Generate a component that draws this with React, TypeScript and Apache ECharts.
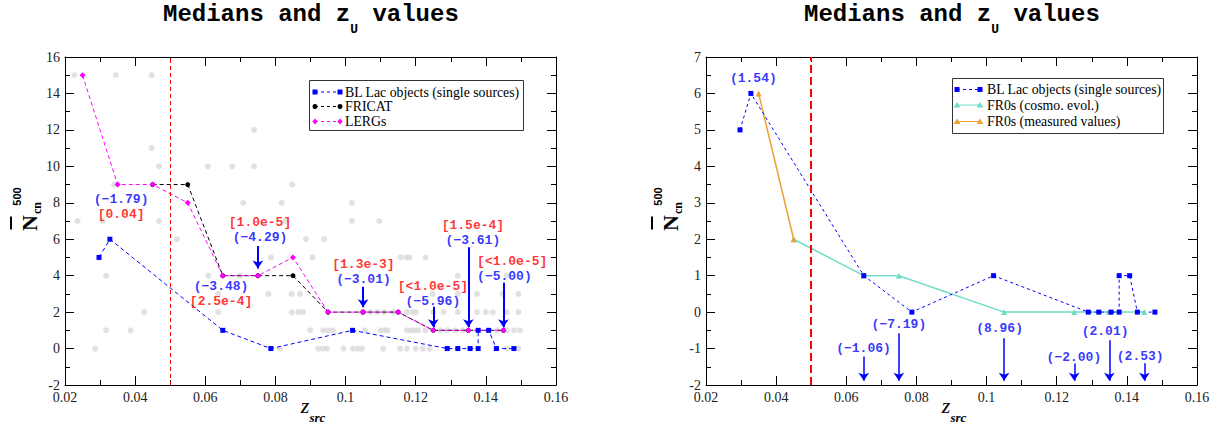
import React, { useEffect, useRef } from "react";
import * as echarts from "echarts";

// ---------------- data ----------------
const zMin = 0.02;
const zMax = 0.16;
const zStep = 0.02;
const zCut = 0.05;

// left panel: medians
const blLacZ = [0.0297, 0.0328, 0.065, 0.0787, 0.102, 0.129, 0.132, 0.1355, 0.1378, 0.1378, 0.1408, 0.143, 0.148];
const blLacN = [5, 6, 1, 0, 1, 0, 0, 0, 0, 1, 1, 0, 0];
const fricatZ = [0.045, 0.055, 0.065, 0.075, 0.085, 0.095, 0.105, 0.115, 0.125, 0.135, 0.145];
const fricatN = [9, 9, 4, 4, 4, 2, 2, 2, 1, 1, 1];
const lergZ = [0.025, 0.035, 0.045, 0.055, 0.065, 0.075, 0.085, 0.095, 0.105, 0.115, 0.125, 0.135, 0.145];
const lergN = [15, 9, 9, 8, 4, 4, 5, 2, 2, 2, 1, 1, 1];

// right panel
const fr0CosmoZ = [0.045, 0.065, 0.075, 0.105, 0.125, 0.135, 0.145];
const fr0CosmoN = [2, 1, 1, 0, 0, 0, 0];
const fr0MeasZ = [0.035, 0.045];
const fr0MeasN = [6, 2];

// individual sources (grey), grouped by N value
const srcRows: [number, number[]][] = [
  [15, [0.0227, 0.0345, 0.0447]],
  [12, [0.0739]],
  [11, [0.0447]],
  [10, [0.0468, 0.0607, 0.0677, 0.0739]],
  [9, [0.034, 0.0848]],
  [8, [0.0708, 0.0818, 0.1018]],
  [7, [0.0236, 0.0308, 0.0468, 0.0827, 0.1018, 0.1096]],
  [6, [0.0519, 0.0887, 0.0939]],
  [5, [0.0787, 0.0906, 0.1157, 0.1174, 0.1182, 0.1228]],
  [4, [0.0317, 0.0609, 0.0699, 0.132, 0.146]],
  [3, [0.0637, 0.078, 0.0846, 0.087, 0.1248, 0.132, 0.1375, 0.1448, 0.1493]],
  [2, [0.0426, 0.0637, 0.0847, 0.0865, 0.0879, 0.1046, 0.107, 0.109, 0.111, 0.1136, 0.1175, 0.119, 0.12, 0.125, 0.128, 0.132, 0.1375, 0.14, 0.142, 0.146, 0.1493]],
  [1, [0.0317, 0.0387, 0.0899, 0.0936, 0.095, 0.0964, 0.1055, 0.11, 0.1112, 0.112, 0.1175, 0.1185, 0.1195, 0.1207, 0.1227, 0.127, 0.129, 0.1313, 0.1335, 0.1432, 0.146, 0.148, 0.1497]],
  [0, [0.0286, 0.0813, 0.0922, 0.0935, 0.0947, 0.0994, 0.1021, 0.1035, 0.1047, 0.1107, 0.1155, 0.1175, 0.12, 0.122, 0.124, 0.146, 0.1493]],
];

// annotations (left): label anchor, texts, arrow
const leftNoteZ = [0.036, 0.0645, 0.0756, 0.1051, 0.1249, 0.1363, 0.1375];
const leftNoteN = [7.77, 2.99, 6.48, 4.21, 2.99, 6.34, 4.37];
const leftNoteStat = ["(−1.79)", "(−3.48)", "(−4.29)", "(−3.01)", "(−5.96)", "(−3.61)", "(−5.00)"];
const leftNotePval = ["[0.04]", "[2.5e-4]", "[1.0e-5]", "[1.3e-3]", "[<1.0e-5]", "[1.5e-4]", "[<1.0e-5]"];
const leftNoteStatFirst = [true, true, false, false, false, false, false];
const leftNoteAlign = ["center", "center", "center", "center", "center", "center", "left"];
const leftArrowZ = [0.075, 0.105, 0.125, 0.135, 0.145];
const leftArrowFrom = [5.63, 3.39, 2.3, 5.56, 3.61];
const leftArrowTo = [4.39, 2.27, 1.17, 1.17, 1.17];

// annotations (right)
const rightNoteZ = [0.0335, 0.0649, 0.075, 0.1037, 0.1249, 0.1338, 0.1438];
const rightNoteN = [6.42, -0.99, -0.335, -0.46, -1.24, -0.54, -1.22];
const rightNoteStat = ["(1.54)", "(−1.06)", "(−7.19)", "(8.96)", "(−2.00)", "(2.01)", "(2.53)"];
const rightArrowZ = [0.065, 0.075, 0.105, 0.125, 0.135, 0.145];
const rightArrowFrom = [-1.22, -0.58, -0.72, -1.41, -0.77, -1.4];
const rightArrowTo = [-1.88, -1.88, -1.88, -1.88, -1.88, -1.88];

const nameBL = "BL Lac objects (single sources)";
const nameFRICAT = "FRICAT";
const nameLERG = "LERGs";
const nameCosmo = "FR0s (cosmo. evol.)";
const nameMeas = "FR0s (measured values)";

// ---------------- style ----------------
const MONO = "'Liberation Mono', 'DejaVu Sans Mono', monospace";
const SERIF = "'Liberation Serif', 'DejaVu Serif', serif";
const SANS = "'Liberation Sans', 'DejaVu Sans', sans-serif";
const BLUE = "#0000ff";
const RED = "#ff0000";
const MAGENTA = "#ff00ff";
const TURQ = "#72dcc8";
const ORANGE = "#eba236";
const GREY = "#d9d9d9";

const zip = (xs: number[], ys: number[]) => xs.map((x, i) => [x, ys[i]]);

function xAxisFor(gridIndex: number, position: string, showLabel: boolean) {
  return {
    type: "value",
    gridIndex,
    position,
    min: zMin,
    max: zMax,
    interval: zStep,
    axisLine: { show: true, onZero: false, lineStyle: { color: "#000", width: 1 } },
    axisTick: { show: true, inside: true, length: 9, lineStyle: { color: "#000", width: 1 } },
    minorTick: { show: true, splitNumber: 2, length: 5, lineStyle: { color: "#000", width: 1 } },
    splitLine: { show: false },
    minorSplitLine: { show: false },
    axisLabel: { show: showLabel, margin: 5, color: "#222", fontFamily: SERIF, fontSize: 14 },
  };
}

function yAxisFor(gridIndex: number, position: string, showLabel: boolean, min: number, max: number, interval: number) {
  return {
    type: "value",
    gridIndex,
    position,
    min,
    max,
    interval,
    axisLine: { show: true, onZero: false, lineStyle: { color: "#000", width: 1 } },
    axisTick: { show: true, inside: true, length: 9, lineStyle: { color: "#000", width: 1 } },
    minorTick: { show: true, splitNumber: 2, length: 5, lineStyle: { color: "#000", width: 1 } },
    splitLine: { show: false },
    minorSplitLine: { show: false },
    axisLabel: { show: showLabel, margin: 5, color: "#222", fontFamily: SERIF, fontSize: 14 },
  };
}

const richText = {
  r: { color: RED, fontFamily: MONO, fontWeight: "bold", fontSize: 13, lineHeight: 15 },
  b: { color: BLUE, fontFamily: MONO, fontWeight: "bold", fontSize: 13, lineHeight: 15 },
};

function markerEl(kind: string, cx: number, cy: number, color: string) {
  if (kind === "rect") return { type: "rect", shape: { x: cx - 2.5, y: cy - 2.5, width: 5, height: 5 }, style: { fill: color } };
  if (kind === "circle") return { type: "circle", shape: { cx, cy, r: 2.5 }, style: { fill: color } };
  if (kind === "diamond")
    return { type: "polygon", shape: { points: [[cx, cy - 3], [cx + 2.6, cy], [cx, cy + 3], [cx - 2.6, cy]] }, style: { fill: color } };
  return { type: "polygon", shape: { points: [[cx, cy - 3], [cx + 3.5, cy + 2.5], [cx - 3.5, cy + 2.5]] }, style: { fill: color } };
}

function legendBox(x: number, y: number, w: number, h: number, rows: any[], lineX1: number, lineX2: number, textX: number, rowY: number[]) {
  const children: any[] = [
    { type: "rect", shape: { x: x + 0.5, y: y + 0.5, width: w, height: h }, style: { fill: "#fff", stroke: "#333", lineWidth: 1 } },
  ];
  rows.forEach((r, i) => {
    const cy = rowY[i];
    children.push({
      type: "line",
      shape: { x1: lineX1, y1: cy, x2: lineX2, y2: cy },
      style: { stroke: r.color, lineWidth: 1, lineDash: r.dash || null },
    });
    children.push(markerEl(r.marker, lineX1, cy, r.color));
    children.push(markerEl(r.marker, lineX2, cy, r.color));
    children.push({
      type: "text",
      x: textX,
      y: cy,
      style: { text: r.name, fill: "#000", fontFamily: SERIF, fontSize: 13.8, align: "left", verticalAlign: "middle" },
    });
  });
  return { type: "group", z: 100, children };
}

function titleEls(startX: number) {
  const w = 14.4; // mono char width at 24px
  const main = "Medians and z";
  const tail = " values";
  const subX = startX + main.length * w;
  return [
    { type: "text", x: startX, y: 14.6, style: { text: main, fill: "#000", fontFamily: MONO, fontWeight: "bold", fontSize: 24, align: "left", verticalAlign: "middle" } },
    { type: "text", x: subX, y: 29.5, style: { text: "U", fill: "#000", fontFamily: MONO, fontWeight: "bold", fontSize: 13, align: "left", verticalAlign: "middle" } },
    { type: "text", x: subX + 7.8, y: 14.6, style: { text: tail, fill: "#000", fontFamily: MONO, fontWeight: "bold", fontSize: 24, align: "left", verticalAlign: "middle" } },
  ];
}

function xTitleEls(cx: number) {
  return [
    { type: "text", x: cx - 6, y: 405.5, style: { text: "z", fill: "#000", fontFamily: SERIF, fontStyle: "italic", fontSize: 22, align: "center", verticalAlign: "middle" } },
    { type: "text", x: cx - 1.5, y: 417.5, style: { text: "src", fill: "#000", fontFamily: SERIF, fontStyle: "italic", fontWeight: "bold", fontSize: 13, align: "left", verticalAlign: "middle" } },
  ];
}

function yTitleEls(axisX: number) {
  const rot = Math.PI / 2;
  return [
    { type: "text", x: axisX - 36, y: 223, rotation: rot, style: { text: "N", fill: "#000", fontFamily: SERIF, fontWeight: "bold", fontSize: 22, align: "center", verticalAlign: "middle" } },
    { type: "line", shape: { x1: axisX - 54, y1: 216.5, x2: axisX - 54, y2: 229.5 }, style: { stroke: "#000", lineWidth: 2 } },
    { type: "text", x: axisX - 28, y: 208, rotation: rot, style: { text: "cn", fill: "#000", fontFamily: SERIF, fontWeight: "bold", fontSize: 12, align: "center", verticalAlign: "middle" } },
    { type: "text", x: axisX - 48.5, y: 196.5, rotation: rot, style: { text: "500", fill: "#000", fontFamily: SANS, fontWeight: "bold", fontSize: 11, align: "center", verticalAlign: "middle" } },
  ];
}

function buildOption() {
  const greyData: number[][] = [];
  srcRows.forEach(([n, zs]) => zs.forEach((z) => greyData.push([z, n])));

  const leftNotes = leftNoteZ.map((z, i) => {
    const s = `{b|${leftNoteStat[i]}}`;
    const p = `{r|${leftNotePval[i]}}`;
    return {
      value: [z, leftNoteN[i]],
      label: { formatter: leftNoteStatFirst[i] ? `${s}\n${p}` : `${p}\n${s}`, align: leftNoteAlign[i] },
    };
  });
  const rightNotes = rightNoteZ.map((z, i) => ({
    value: [z, rightNoteN[i]],
    label: { formatter: `{b|${rightNoteStat[i]}}` },
  }));

  const arrowLine = (zs: number[], from: number[], to: number[]) =>
    zs.map((z, i) => [{ coord: [z, from[i]] }, { coord: [z, to[i]] }]);

  const cutLine = (width: number, dash: number[]) => ({
    silent: true,
    symbol: ["none", "none"],
    label: { show: false },
    lineStyle: { color: RED, width, type: dash },
    data: [{ xAxis: zCut }],
  });

  const noteSeries = (xi: number, data: any[], arrows: any[], width: number) => ({
    type: "scatter",
    xAxisIndex: xi,
    yAxisIndex: xi,
    silent: true,
    z: 10,
    symbol: "circle",
    symbolSize: 1,
    itemStyle: { color: "rgba(0,0,0,0)" },
    label: { show: true, position: "inside", rich: richText, lineHeight: 15 },
    data,
    markLine: {
      silent: true,
      symbol: ["none", "arrow"],
      symbolSize: 8,
      label: { show: false },
      lineStyle: { color: BLUE, width, type: "solid" },
      data: arrows,
    },
  });

  return {
    animation: false,
    backgroundColor: "#fff",
    grid: [
      { left: 65, top: 57, width: 491, height: 328 },
      { left: 706, top: 57, width: 491, height: 328 },
    ],
    xAxis: [xAxisFor(0, "bottom", true), xAxisFor(0, "top", false), xAxisFor(1, "bottom", true), xAxisFor(1, "top", false)],
    yAxis: [
      yAxisFor(0, "left", true, -2, 16, 2),
      yAxisFor(0, "right", false, -2, 16, 2),
      yAxisFor(1, "left", true, -2, 7, 1),
      yAxisFor(1, "right", false, -2, 7, 1),
    ],
    series: [
      // ---- left ----
      {
        name: "sources",
        type: "scatter",
        xAxisIndex: 0,
        yAxisIndex: 0,
        silent: true,
        symbol: "circle",
        symbolSize: 6,
        itemStyle: { color: GREY },
        data: greyData,
        markLine: cutLine(1, [4, 3]),
      },
      {
        name: nameBL,
        type: "line",
        xAxisIndex: 0,
        yAxisIndex: 0,
        silent: true,
        symbol: "rect",
        symbolSize: 5,
        itemStyle: { color: BLUE },
        lineStyle: { color: BLUE, width: 1, type: [4, 3] },
        data: zip(blLacZ, blLacN),
      },
      {
        name: nameFRICAT,
        type: "line",
        xAxisIndex: 0,
        yAxisIndex: 0,
        silent: true,
        symbol: "circle",
        symbolSize: 5,
        itemStyle: { color: "#000" },
        lineStyle: { color: "#000", width: 1, type: [4, 3] },
        data: zip(fricatZ, fricatN),
      },
      {
        name: nameLERG,
        type: "line",
        xAxisIndex: 0,
        yAxisIndex: 0,
        silent: true,
        symbol: "diamond",
        symbolSize: 6,
        itemStyle: { color: MAGENTA },
        lineStyle: { color: MAGENTA, width: 1, type: [4, 3] },
        data: zip(lergZ, lergN),
      },
      noteSeries(0, leftNotes, arrowLine(leftArrowZ, leftArrowFrom, leftArrowTo), 2),
      // ---- right ----
      {
        name: nameCosmo,
        type: "line",
        xAxisIndex: 2,
        yAxisIndex: 2,
        silent: true,
        symbol: "triangle",
        symbolSize: 6,
        itemStyle: { color: TURQ },
        lineStyle: { color: TURQ, width: 1.5, type: "solid" },
        data: zip(fr0CosmoZ, fr0CosmoN),
        markLine: cutLine(2, [8, 4]),
      },
      {
        name: nameMeas,
        type: "line",
        xAxisIndex: 2,
        yAxisIndex: 2,
        silent: true,
        symbol: "triangle",
        symbolSize: 6,
        itemStyle: { color: ORANGE },
        lineStyle: { color: ORANGE, width: 1.5, type: "solid" },
        data: zip(fr0MeasZ, fr0MeasN),
      },
      {
        name: nameBL + " ",
        type: "line",
        xAxisIndex: 2,
        yAxisIndex: 2,
        silent: true,
        symbol: "rect",
        symbolSize: 5,
        itemStyle: { color: BLUE },
        lineStyle: { color: BLUE, width: 1, type: [3, 3] },
        data: zip(blLacZ, blLacN),
      },
      noteSeries(2, rightNotes, arrowLine(rightArrowZ, rightArrowFrom, rightArrowTo), 1.5),
    ],
    graphic: [
      ...titleEls(163),
      ...titleEls(804),
      ...xTitleEls(311),
      ...xTitleEls(952),
      ...yTitleEls(65),
      ...yTitleEls(706),
      legendBox(
        309, 80, 214, 50,
        [
          { name: nameBL, color: BLUE, marker: "rect", dash: [3, 3] },
          { name: nameFRICAT, color: "#000", marker: "circle", dash: [3, 3] },
          { name: nameLERG, color: MAGENTA, marker: "diamond", dash: [3, 3] },
        ],
        315, 340, 345, [92, 106.5, 121.5]
      ),
      legendBox(
        952, 78, 211, 55,
        [
          { name: nameBL, color: BLUE, marker: "rect", dash: [3, 3] },
          { name: nameCosmo, color: TURQ, marker: "triangle" },
          { name: nameMeas, color: ORANGE, marker: "triangle" },
        ],
        957, 980, 987, [89.5, 105, 121.5]
      ),
    ],
  };
}

export default function App() {
  const ref = useRef<HTMLDivElement>(null);
  useEffect(() => {
    const chart = echarts.init(ref.current as HTMLDivElement, null, { renderer: "svg" });
    chart.setOption(buildOption() as any);
    return () => chart.dispose();
  }, []);
  return (
    <div
      ref={ref}
      style={{ position: "absolute", left: 0, top: 0, width: 1218, height: 426, background: "#fff" }}
    />
  );
}
